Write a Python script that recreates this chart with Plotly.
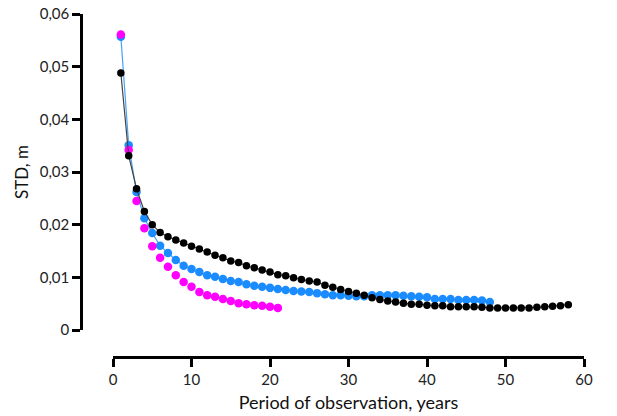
import plotly.graph_objects as go

# Data
black_std = [0.0488, 0.0331, 0.0268, 0.0225, 0.0200, 0.0185, 0.0177, 0.0171, 0.0165, 0.0159,
             0.0154, 0.0148, 0.0142, 0.0137, 0.0131, 0.0128, 0.0122, 0.0118, 0.0114, 0.0110,
             0.0105, 0.0103, 0.0099, 0.0096, 0.0093, 0.0091, 0.0085, 0.0081, 0.0077, 0.0073,
             0.0070, 0.0066, 0.0061, 0.0058, 0.0055, 0.0053, 0.0051, 0.0049, 0.0049, 0.0047,
             0.0046, 0.0046, 0.0044, 0.0044, 0.0044, 0.0044, 0.0043, 0.0042, 0.0042, 0.0042,
             0.0042, 0.0042, 0.0042, 0.0043, 0.0044, 0.0045, 0.0046, 0.0048]
blue_std = [0.0557, 0.0351, 0.0262, 0.0212, 0.0184, 0.0160, 0.0146, 0.0133, 0.0122, 0.0116,
            0.0110, 0.0104, 0.0101, 0.0097, 0.0093, 0.0091, 0.0087, 0.0084, 0.0082, 0.0080,
            0.0078, 0.0076, 0.0074, 0.0073, 0.0072, 0.0070, 0.0068, 0.0066, 0.0066, 0.0065,
            0.0064, 0.0064, 0.0066, 0.0066, 0.0066, 0.0066, 0.0065, 0.0064, 0.0063, 0.0062,
            0.0059, 0.0059, 0.0059, 0.0057, 0.0057, 0.0057, 0.0056, 0.0053]
magenta_std = [0.0561, 0.0342, 0.0245, 0.0193, 0.0159, 0.0137, 0.0120, 0.0104, 0.0091, 0.0082,
               0.0072, 0.0066, 0.0063, 0.0059, 0.0055, 0.0051, 0.0049, 0.0047, 0.0046, 0.0044,
               0.0042]
black_years = list(range(1, len(black_std) + 1))
blue_years = list(range(1, len(blue_std) + 1))
magenta_years = list(range(1, len(magenta_std) + 1))

y_tickvals = [0, 0.01, 0.02, 0.03, 0.04, 0.05, 0.06]
y_ticktext = ["0", "0,01", "0,02", "0,03", "0,04", "0,05", "0,06"]
x_tickvals = [0, 10, 20, 30, 40, 50, 60]

FONT = "Lato"

fig = go.Figure()
fig.add_trace(go.Scatter(x=blue_years, y=blue_std, mode="lines+markers",
                         line=dict(color="#4aa3f5", width=1.2),
                         marker=dict(color="#1a8cff", size=8.5), showlegend=False))
fig.add_trace(go.Scatter(x=magenta_years, y=magenta_std, mode="markers",
                         marker=dict(color="#ff00ff", size=8.5), showlegend=False))
fig.add_trace(go.Scatter(x=black_years, y=black_std, mode="lines+markers",
                         line=dict(color="#444444", width=1.2),
                         marker=dict(color="#000000", size=7.5), showlegend=False))

W, H = 617, 416
ml, mr, mt, mb = 81, 33, 14, 59
pw, ph = W - ml - mr, H - mt - mb
x0_px = 113
y0_px = 330

fig.update_layout(
    width=W, height=H,
    margin=dict(l=ml, r=mr, t=mt, b=mb, pad=0, autoexpand=False),
    plot_bgcolor="white", paper_bgcolor="white",
    font=dict(family=FONT, color="#222222"),
    xaxis=dict(
        domain=[(x0_px - ml) / pw, 1], range=[0, 60], anchor="free", position=0,
        automargin=False,
        tickvals=x_tickvals, ticks="outside", ticklen=8, tickwidth=2.5, tickcolor="black",
        showline=True, linewidth=2.5, linecolor="black", showgrid=False, zeroline=False,
        tickfont=dict(size=15, family=FONT, color="#222222"),
        title=dict(text="Period of observation, years", font=dict(size=18, family=FONT, color="#111111"), standoff=9),
    ),
    yaxis=dict(
        domain=[(H - mb - y0_px) / ph, 1], range=[0, 0.06], anchor="free", position=0,
        automargin=False,
        tickvals=y_tickvals, ticktext=y_ticktext, ticks="outside", ticklen=8, tickwidth=2.5,
        tickcolor="black", showline=True, linewidth=2.5, linecolor="black",
        showgrid=False, zeroline=False,
        tickfont=dict(size=15, family=FONT, color="#222222"),
        title=dict(text="STD, m", font=dict(size=17, family=FONT, color="#111111"), standoff=5),
    ),
)

fig.write_html("out.html")
